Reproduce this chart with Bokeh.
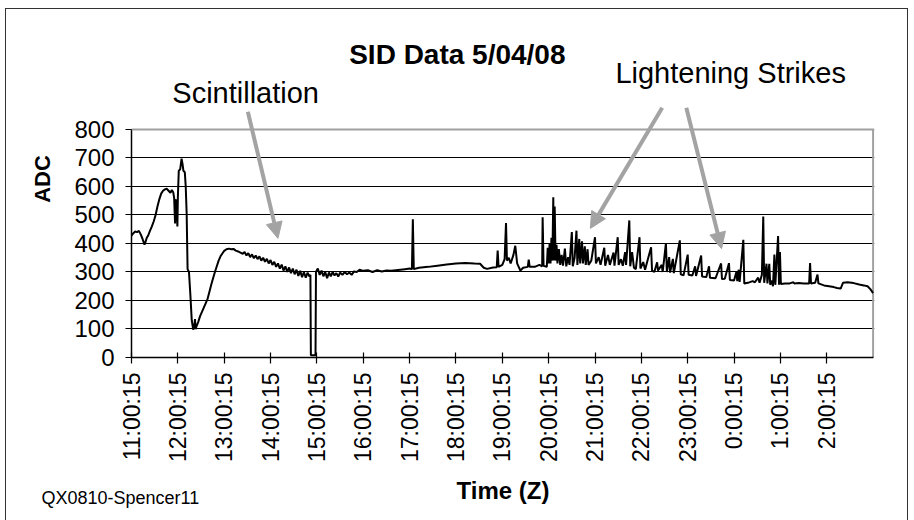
import math
from bokeh.plotting import figure
from bokeh.models import (Range1d, FixedTicker, Label, Arrow, NormalHead, Span, Title,
                          InlineStyleSheet)
from bokeh.embed import file_html
from bokeh.resources import INLINE

# ---- data: hours after 11:00:15 (Z) and ADC reading ----
t_hours = [
    0.00, 0.04, 0.08, 0.12, 0.16, 0.20, 0.24, 0.28, 0.30, 0.33, 0.36, 0.40, 0.44, 0.48, 0.52,
    0.56, 0.60, 0.64, 0.68, 0.72, 0.76, 0.80, 0.84, 0.87, 0.90, 0.92, 0.94, 0.95, 0.97, 0.99,
    1.00, 1.02, 1.05, 1.08, 1.10, 1.12, 1.15, 1.17, 1.19, 1.21, 1.24, 1.27, 1.30, 1.32, 1.33,
    1.35, 1.37, 1.38, 1.40, 1.44, 1.48, 1.52, 1.56, 1.60, 1.64, 1.68, 1.72, 1.76, 1.80, 1.84,
    1.88, 1.92, 1.96, 2.00, 2.05, 2.10, 2.15, 2.20, 2.25, 2.30, 2.35, 2.40,
    2.44, 2.48, 2.52, 2.56, 2.60, 2.64, 2.68, 2.72, 2.76, 2.80, 2.84, 2.88, 2.92, 2.96, 3.00,
    3.04, 3.08, 3.12, 3.16, 3.20, 3.24, 3.28, 3.32, 3.36, 3.40, 3.44, 3.48, 3.52, 3.56, 3.60,
    3.64, 3.68, 3.72, 3.76, 3.80, 3.84, 3.86, 3.87, 3.97, 3.98,
    4.02, 4.06, 4.10, 4.14, 4.18, 4.22, 4.26, 4.30, 4.34, 4.38, 4.42, 4.46, 4.50, 4.55, 4.60,
    4.65, 4.70, 4.75, 4.80, 4.86, 4.92, 5.00, 5.10, 5.20, 5.30, 5.40, 5.50, 5.60, 5.70, 5.80,
    5.90, 6.00, 6.05, 6.07, 6.09, 6.20, 6.40, 6.60, 6.80, 7.00, 7.20, 7.40, 7.52, 7.60, 7.67,
    7.80, 7.88, 7.90, 7.92, 8.00, 8.05, 8.08, 8.10, 8.14, 8.18, 8.24, 8.28, 8.32, 8.39, 8.45,
    8.55, 8.57, 8.59, 8.70, 8.80, 8.86, 8.87, 8.89, 8.96, 8.98, 9.00, 9.02, 9.04, 9.06, 9.08,
    9.10, 9.11, 9.13, 9.15, 9.17, 9.19, 9.22, 9.25, 9.28, 9.31, 9.35, 9.38, 9.42, 9.45, 9.50,
    9.52, 9.56, 9.60, 9.62, 9.66, 9.68, 9.72, 9.74, 9.78, 9.80, 9.84, 9.86, 9.92, 10.00, 10.02,
    10.08, 10.12, 10.20, 10.22, 10.28, 10.32, 10.40, 10.42, 10.49, 10.51, 10.56, 10.60, 10.65, 10.67, 10.74,
    10.76, 10.80, 10.84, 10.88, 10.96, 10.98, 11.04, 11.08, 11.21, 11.23, 11.28, 11.34, 11.36, 11.44, 11.46,
    11.53, 11.55, 11.60, 11.62, 11.68, 11.70, 11.83, 11.85, 11.91, 12.00, 12.02, 12.10, 12.16, 12.18, 12.29,
    12.31, 12.40, 12.46, 12.48, 12.60, 12.72, 12.74, 12.80, 12.89, 12.91, 13.00, 13.05, 13.07, 13.10, 13.12,
    13.20, 13.22, 13.30, 13.40, 13.45, 13.52, 13.55, 13.60, 13.63, 13.65, 13.70, 13.72, 13.76, 13.78, 13.82,
    13.84, 13.87, 13.89, 13.95, 13.97, 13.99, 14.01, 14.10, 14.20, 14.28, 14.30, 14.40, 14.50, 14.62, 14.64,
    14.66, 14.75, 14.80, 14.82, 14.94, 15.05, 15.15, 15.22, 15.30, 15.35, 15.45, 15.58, 15.70, 15.80, 15.88,
    15.94, 16.00,
]
adc = [
    428, 436, 442, 440, 444, 432, 415, 396, 405, 420, 428, 445, 460, 478, 500,
    530, 555, 575, 585, 590, 592, 585, 578, 588, 580, 560, 470, 555, 540, 460,
    560, 655, 660, 698, 680, 655, 650, 600, 505, 310, 300, 220, 130, 110, 98,
    105, 135, 100, 108, 125, 145, 160, 175, 190, 205, 230, 255, 278, 300, 320,
    340, 355, 365, 374, 380, 382, 380, 381, 375, 372, 368, 364,
    370, 358, 366, 352, 362, 348, 358, 345, 355, 340, 350, 336, 346, 330, 342,
    325, 336, 318, 330, 312, 326, 305, 320, 300, 316, 296, 312, 292, 308, 286,
    304, 282, 300, 280, 298, 284, 290, 8, 8, 300,
    312, 290, 305, 285, 300, 278, 298, 285, 300, 288, 296, 284, 298, 290, 300,
    292, 298, 290, 302, 300, 308, 304, 306, 300, 306, 302, 305, 304, 306, 308,
    310, 312, 310, 485, 310, 315, 318, 322, 326, 330, 332, 330, 329, 315, 311,
    316, 317, 375, 318, 325, 345, 472, 340, 350, 330, 360, 392, 330, 305, 315,
    318, 343, 318, 318, 325, 320, 492, 322, 318, 385, 330, 400, 330, 420, 340,
    562, 340, 530, 340, 395, 330, 380, 325, 360, 322, 382, 320, 352, 325, 440,
    320, 350, 445, 325, 416, 330, 408, 330, 390, 325, 380, 325, 340, 422, 330,
    352, 325, 385, 322, 360, 325, 368, 322, 422, 325, 345, 322, 370, 325, 481,
    320, 370, 315, 310, 422, 312, 335, 308, 387, 305, 300, 334, 305, 325, 300,
    401, 300, 352, 298, 346, 296, 411, 292, 288, 361, 290, 288, 320, 286, 358,
    284, 282, 320, 280, 278, 330, 275, 276, 331, 272, 270, 300, 268, 308, 265,
    413, 260, 262, 268, 264, 280, 262, 290, 495, 262, 329, 260, 329, 255, 270,
    250, 361, 255, 426, 255, 370, 258, 260, 260, 264, 260, 261, 260, 260, 331,
    260, 262, 291, 260, 253, 250, 247, 244, 242, 262, 264, 261, 256, 253, 250,
    240, 226,
]
hour_ticks = list(range(16))
hour_labels = ["11:00:15", "12:00:15", "13:00:15", "14:00:15", "15:00:15", "16:00:15",
               "17:00:15", "18:00:15", "19:00:15", "20:00:15", "21:00:15", "22:00:15",
               "23:00:15", "0:00:15", "1:00:15", "2:00:15"]
adc_ticks = [0, 100, 200, 300, 400, 500, 600, 700, 800]
grid_levels = [100, 200, 300, 400, 500, 600, 700]
X_END = 16      # end of the recorded period (hours)
Y_TOP = 800     # top of the ADC scale

FONT = "Liberation Sans"

# plot area reaches the canvas top so the title, notes and arrows can sit above the 800 line
p = figure(width=914, height=520, output_backend="svg", toolbar_location=None,
           x_range=Range1d(0, 16.03), y_range=Range1d(0, 1252.6),
           min_border_left=131, min_border_right=40, min_border_top=0, min_border_bottom=163,
           background_fill_color="white", border_fill_color="white")
p.title.text = ""

# grid / frame
p.outline_line_color = None
p.xgrid.visible = False
p.ygrid.ticker = FixedTicker(ticks=grid_levels)
p.ygrid.grid_line_color = "black"
p.ygrid.grid_line_width = 1
p.add_layout(Span(location=Y_TOP, dimension="width", line_color="#a0a0a0", line_width=2))
p.segment(x0=[X_END], y0=[0], x1=[X_END], y1=[Y_TOP], line_color="#a0a0a0", line_width=2)

p.line(t_hours, adc, line_color="black", line_width=2)

# axes
p.xaxis.ticker = FixedTicker(ticks=hour_ticks)
p.xaxis.bounds = (0, X_END)
p.xaxis.major_label_overrides = {t: s for t, s in zip(hour_ticks, hour_labels)}
p.xaxis.major_label_orientation = math.pi / 2
p.yaxis.ticker = FixedTicker(ticks=adc_ticks)
p.yaxis.bounds = (0, Y_TOP)
for ax in (p.xaxis[0], p.yaxis[0]):
    ax.axis_line_color = "black"
    ax.axis_line_width = 1.5
    ax.major_tick_line_color = "black"
    ax.major_tick_line_width = 1.2
    ax.major_tick_in = 5
    ax.major_tick_out = 6
    ax.minor_tick_line_color = None
    ax.major_label_text_font = FONT
    ax.major_label_text_color = "black"
    ax.axis_label_text_font = FONT
    ax.axis_label_text_font_style = "bold"
    ax.axis_label_text_color = "black"
p.xaxis.major_label_text_font_size = "23px"
p.xaxis.major_label_standoff = 9
p.yaxis.major_label_text_font_size = "24px"
p.yaxis.major_label_standoff = 11
p.yaxis.axis_label = "ADC"
p.yaxis.axis_label_text_font_size = "22px"
p.yaxis.axis_label_standoff = 16
p.xaxis.axis_label = "Time (Z)"
p.xaxis.axis_label_text_font_size = "24px"
p.xaxis.axis_label_standoff = 12

# title and notes
p.add_layout(Label(x=7.03, y=1064, text="SID Data 5/04/08", text_font=FONT,
                   text_font_size="28px", text_font_style="bold", text_color="black",
                   text_align="center", text_baseline="alphabetic"))
p.add_layout(Label(x=0.88, y=929, text="Scintillation", text_font=FONT,
                   text_font_size="29px", text_color="black", text_baseline="alphabetic"))
p.add_layout(Label(x=10.44, y=999, text="Lightening Strikes", text_font=FONT,
                   text_font_size="29px", text_color="black", text_baseline="alphabetic"))

arrow_color = "#a3a3a3"
for (x0, y0, x1, y1) in [(2.51, 862, 3.16, 418), (11.45, 876, 9.90, 453), (11.97, 876, 12.73, 382)]:
    p.add_layout(Arrow(x_start=x0, y_start=y0, x_end=x1, y_end=y1,
                       line_color=arrow_color, line_width=4,
                       end=NormalHead(size=16, fill_color=arrow_color, line_color=arrow_color)))

# source note, bottom left
p.add_layout(Title(text="QX0810-Spencer11", align="left", offset=-90, standoff=-40,
                   vertical_align="top",
                   text_font=FONT, text_font_size="18px", text_font_style="normal",
                   text_color="black"), "below")

# outer chart border
p.stylesheets = [InlineStyleSheet(css=(
    ":host { position: relative; }"
    ":host::after { content: ''; position: absolute; left: 5px; top: 8px; width: 903px;"
    " height: 512px; border: 1.5px solid #333; border-bottom: none; box-sizing: border-box;"
    " pointer-events: none; }"))]

open("out.html", "w").write(file_html(p, INLINE))
